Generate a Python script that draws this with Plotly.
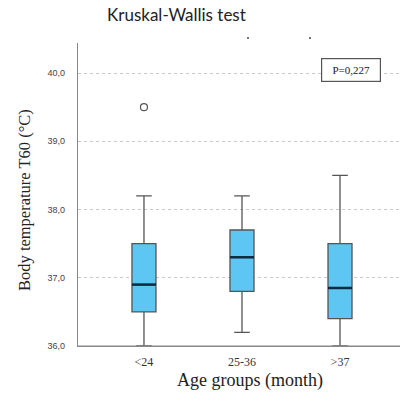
import plotly.graph_objects as go

categories = ["<24", "25-36", ">37"]
q1 = [36.5, 36.8, 36.4]
median = [36.9, 37.3, 36.85]
q3 = [37.5, 37.7, 37.5]
lower = [36.0, 36.2, 36.0]
upper = [38.2, 38.2, 38.5]
outlier_group = [0]
outlier_value = [39.5]
y_ticks = [36.0, 37.0, 38.0, 39.0, 40.0]
y_tick_labels = ["36,0", "37,0", "38,0", "39,0", "40,0"]
p_text = "P=0,227"

pos = list(range(len(categories)))
box_w = 0.245

fig = go.Figure()
fig.add_trace(go.Box(
    x=pos, q1=q1, median=median, q3=q3, lowerfence=lower, upperfence=upper,
    width=box_w, fillcolor="#5DC6F2", line=dict(color="#555555", width=1.3),
    whiskerwidth=0.65, boxpoints=False, showlegend=False, hoverinfo="skip",
))
mx, my = [], []
for i, m in zip(pos, median):
    mx += [i - box_w / 2, i + box_w / 2, None]
    my += [m, m, None]
fig.add_trace(go.Scatter(x=mx, y=my, mode="lines",
                         line=dict(color="#0E2A40", width=2.5), showlegend=False, hoverinfo="skip"))
fig.add_trace(go.Scatter(x=outlier_group, y=outlier_value, mode="markers",
                         marker=dict(symbol="circle-open", size=7, color="#555555", line=dict(width=1.2)),
                         showlegend=False, hoverinfo="skip"))

W, H = 400, 396
def px(x):
    return (x - 78) / 322
def py(y):
    return (346 - y) / 303

fig.update_layout(
    width=W, height=H,
    margin=dict(l=78, r=0, t=43, b=50),
    paper_bgcolor="white", plot_bgcolor="white",
    title=dict(text="Kruskal-Wallis test", x=107/400, xanchor="left", y=1-15/396, yanchor="middle",
               font=dict(family="Lato", size=17, color="#222222")),
    xaxis=dict(range=[-0.673, 2.612], tickvals=pos, ticktext=categories, showgrid=False,
               zeroline=False, showline=True, linecolor="#888888", linewidth=1.2, ticks="",
               ticklabelstandoff=4,
               tickfont=dict(family="Liberation Serif", size=12, color="#333333")),
    yaxis=dict(range=[36.0, 40.44], tickvals=y_ticks, ticktext=y_tick_labels,
               showgrid=True, gridcolor="#C8C8C8", griddash="dot", gridwidth=1,
               zeroline=False, showline=True, linecolor="#888888", linewidth=1.2, ticks="",
               ticklabelstandoff=10,
               tickfont=dict(family="Liberation Sans", size=9, color="#444444")),
    annotations=[
        dict(text=p_text, xref="paper", yref="paper",
             x=px(351), y=py(70), xanchor="center", yanchor="middle",
             showarrow=False, font=dict(family="Liberation Serif", size=11, color="#222222"),
             bordercolor="#555555", borderwidth=1.2, borderpad=5, bgcolor="white", width=48),
        dict(text="Body temperature T60 (°C)", xref="paper", yref="paper",
             x=px(25), y=py(200), xanchor="center", yanchor="middle", textangle=-90,
             showarrow=False, font=dict(family="Liberation Serif", size=16.5, color="#222222")),
        dict(text="Age groups (month)", xref="paper", yref="paper",
             x=px(250), y=py(380), xanchor="center", yanchor="middle",
             showarrow=False, font=dict(family="Liberation Serif", size=18, color="#222222")),
    ],
    shapes=[
        dict(type="circle", xref="paper", yref="paper", x0=px(247), x1=px(249),
             y0=py(39), y1=py(37), fillcolor="#444444", line=dict(width=0)),
        dict(type="circle", xref="paper", yref="paper", x0=px(309), x1=px(311),
             y0=py(39), y1=py(37), fillcolor="#444444", line=dict(width=0)),
    ],
)
fig.add_hline(y=36.0, line=dict(color="#888888", width=1.2))
fig.write_html("out.html")
